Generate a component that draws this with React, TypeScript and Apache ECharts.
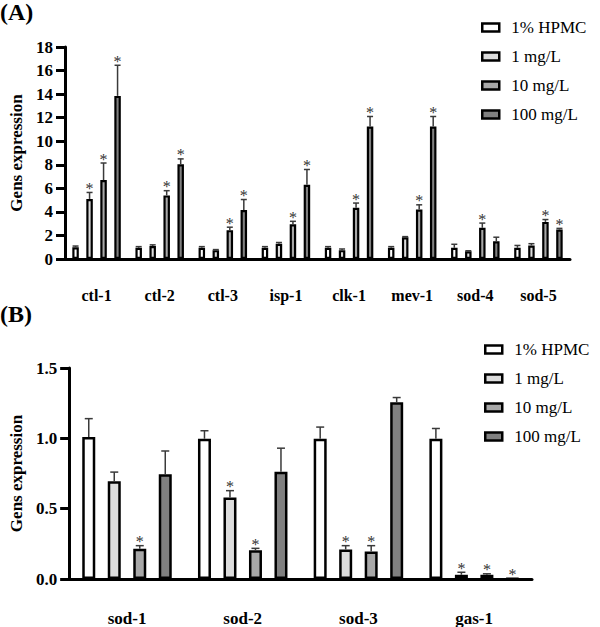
import React, { useEffect, useRef } from "react";
import * as echarts from "echarts";

const groups = ["1% HPMC", "1 mg/L", "10 mg/L", "100 mg/L"];
const groupColors = ["#ffffff", "#dcdcdc", "#a8a8a8", "#808080"];

// Panel A
const catA = ["ctl-1", "ctl-2", "ctl-3", "isp-1", "clk-1", "mev-1", "sod-4", "sod-5"];
const aHpmc = [1.0, 0.95, 0.95, 0.95, 0.95, 0.95, 0.95, 0.95];
const aHpmcTop = [1.1, 1.05, 1.05, 1.05, 1.05, 1.05, 1.25, 1.15];
const aHpmcStar = [0, 0, 0, 0, 0, 0, 0, 0];
const a1 = [5.1, 1.1, 0.75, 1.3, 0.75, 1.85, 0.65, 1.15];
const a1Top = [5.65, 1.2, 0.8, 1.4, 0.85, 1.9, 0.7, 1.3];
const a1Star = [1, 0, 0, 0, 0, 0, 0, 0];
const a10 = [6.7, 5.4, 2.45, 2.95, 4.35, 4.2, 2.65, 3.15];
const a10Top = [8.15, 5.8, 2.7, 3.2, 4.75, 4.6, 3.05, 3.35];
const a10Star = [1, 1, 1, 1, 1, 1, 1, 1];
const a100 = [13.85, 8.05, 4.15, 6.3, 11.25, 11.25, 1.5, 2.5];
const a100Top = [16.45, 8.5, 5.05, 7.6, 12.1, 12.1, 1.85, 2.6];
const a100Star = [1, 1, 1, 1, 1, 1, 0, 1];
const aTicks = { min: 0, max: 18, interval: 2 };

// Panel B
const catB = ["sod-1", "sod-2", "sod-3", "gas-1"];
const bHpmc = [1.01, 0.997, 0.997, 0.997];
const bHpmcTop = [1.14, 1.054, 1.08, 1.07];
const bHpmcStar = [0, 0, 0, 0];
const b1 = [0.695, 0.58, 0.21, 0.03];
const b1Top = [0.76, 0.628, 0.237, 0.048];
const b1Star = [0, 1, 1, 1];
const b10 = [0.215, 0.205, 0.195, 0.03];
const b10Top = [0.237, 0.218, 0.237, 0.037];
const b10Star = [1, 1, 1, 1];
const b100 = [0.745, 0.763, 1.256, 0.003];
const b100Top = [0.91, 0.93, 1.29, 0.003];
const b100Star = [0, 0, 0, 1];
const bTicks = { min: 0, max: 1.5, interval: 0.5 };

const FONT = "Liberation Serif";

const panelA = [
  { v: aHpmc, t: aHpmcTop, s: aHpmcStar },
  { v: a1, t: a1Top, s: a1Star },
  { v: a10, t: a10Top, s: a10Star },
  { v: a100, t: a100Top, s: a100Star },
];
const panelB = [
  { v: bHpmc, t: bHpmcTop, s: bHpmcStar },
  { v: b1, t: b1Top, s: b1Star },
  { v: b10, t: b10Top, s: b10Star },
  { v: b100, t: b100Top, s: b100Star },
];

export default function App() {
  const ref = useRef<HTMLDivElement>(null);
  useEffect(() => {
    if (!ref.current) return;
    const chart = echarts.init(ref.current, null, { renderer: "svg" });

    const barW = [6.5, 13];
    const gapPx = [7.5, 12.5];
    const borderW = [2.2, 2.5];
    const capW = [6, 8];
    const series: any[] = [];
    [panelA, panelB].forEach((panel, p) => {
      panel.forEach((g, i) => {
        series.push({
          type: "bar",
          name: groups[i],
          xAxisIndex: p,
          yAxisIndex: p,
          data: g.v,
          barWidth: barW[p],
          barGap: (gapPx[p] / barW[p]) * 100 + "%",
          itemStyle: { color: groupColors[i], borderColor: "#000", borderWidth: borderW[p] },
          z: 2,
        });
        const offset = (i - 1.5) * (barW[p] + gapPx[p]);
        series.push({
          type: "custom",
          name: groups[i] + " err",
          xAxisIndex: p,
          yAxisIndex: p,
          z: 3,
          silent: true,
          clip: false,
          itemStyle: { color: "#333333" },
          data: g.v.map((val, k) => [k, val, g.t[k], g.s[k]]),
          encode: { x: 0, y: 2 },
          renderItem: (params: any, api: any) => {
            const k = api.value(0);
            const base = api.coord([k, api.value(1)]);
            const top = api.coord([k, api.value(2)]);
            const x = base[0] + offset;
            const children: any[] = [];
            if (api.value(2) > api.value(1)) {
              children.push({
                type: "line",
                shape: { x1: x, y1: base[1], x2: x, y2: top[1] },
                style: { stroke: "#3a3a3a", lineWidth: 1.5, fill: null },
              });
              children.push({
                type: "line",
                shape: { x1: x - capW[p] / 2, y1: top[1], x2: x + capW[p] / 2, y2: top[1] },
                style: { stroke: "#3a3a3a", lineWidth: 1.5, fill: null },
              });
            }
            if (api.value(3)) {
              children.push({
                type: "text",
                x: x,
                y: top[1] + 4,
                style: {
                  text: "*",
                  fill: "#333333",
                  fontSize: 16,
                  fontFamily: FONT,
                  align: "center",
                  verticalAlign: "bottom",
                },
              });
            }
            return { type: "group", children };
          },
        });
      });
    });

    const xAxisBase = (cats: string[], gridIndex: number, margin: number, fs: number, tickLen: number) => ({
      type: "category",
      gridIndex,
      data: cats,
      axisLine: { lineStyle: { color: "#000", width: 3 } },
      axisTick: { alignWithLabel: true, length: tickLen, lineStyle: { color: "#000", width: 3 } },
      axisLabel: { color: "#000", fontFamily: FONT, fontWeight: "bold", fontSize: fs, margin },
    });
    const yAxisBase = (gridIndex: number, ticks: any, fmt: (v: number) => string) => ({
      type: "value",
      gridIndex,
      min: ticks.min,
      max: ticks.max,
      interval: ticks.interval,
      name: "Gens expression",
      nameLocation: "middle",
      nameGap: 40,
      nameTextStyle: { color: "#000", fontFamily: FONT, fontWeight: "bold", fontSize: 17 },
      splitLine: { show: false },
      axisLine: { show: true, lineStyle: { color: "#000", width: 3 } },
      axisTick: { show: true, length: 9, lineStyle: { color: "#000", width: 3 } },
      axisLabel: { color: "#000", fontFamily: FONT, fontWeight: "bold", fontSize: 17, margin: 12, formatter: fmt },
    });

    const legendBase = (left: number, top: number) => ({
      data: groups,
      orient: "vertical",
      left,
      top,
      padding: 0,
      itemGap: 12,
      itemWidth: 17,
      itemHeight: 8,
      icon: "rect",
      itemStyle: { borderColor: "#000", borderWidth: 2.5 },
      textStyle: { color: "#000", fontFamily: FONT, fontSize: 17, padding: [0, 0, 0, 7] },
      selectedMode: false,
    });

    chart.setOption({
      animation: false,
      title: [
        { text: "(A)", left: 0, top: 0, padding: 0, textStyle: { fontFamily: FONT, fontWeight: "bold", fontSize: 24, color: "#000" } },
        { text: "(B)", left: 0, top: 302, padding: 0, textStyle: { fontFamily: FONT, fontWeight: "bold", fontSize: 24, color: "#000" } },
      ],
      legend: [legendBase(481, 19), legendBase(484, 341)],
      grid: [
        { left: 58, top: 47, width: 512, height: 212 },
        { left: 60, top: 368, width: 472, height: 211 },
      ],
      xAxis: [xAxisBase(catA, 0, 28, 16, 8), xAxisBase(catB, 1, 31, 17, 9)],
      yAxis: [yAxisBase(0, aTicks, (v: number) => String(v)), yAxisBase(1, bTicks, (v: number) => v.toFixed(1))],
      series,
    });
    return () => chart.dispose();
  }, []);
  return <div ref={ref} style={{ position: "absolute", left: 0, top: 0, width: 600, height: 627 }} />;
}
